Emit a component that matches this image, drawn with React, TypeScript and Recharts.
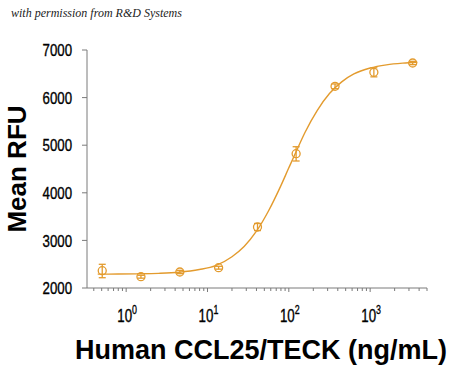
import React from 'react';
import { ComposedChart, Line, Scatter, XAxis, YAxis, ErrorBar, Label } from 'recharts';

const ORANGE = '#E39B2E';
const AXIS = '#7a7a7a';

// measured points (concentration ng/mL, Mean RFU, error [minus, plus])
const concentrations = [0.508, 1.52, 4.57, 13.7, 41.2, 123, 370, 1111, 3333];
const meanRFU = [2363, 2237, 2336, 2426, 3281, 4821, 6237, 6531, 6727];
const errMinus = [147, 30, 35, 30, 75, 153, 50, 95, 35];
const errPlus = [135, 30, 35, 30, 75, 147, 50, 95, 35];

// fitted curve
const curveX = [0.447, 0.794, 1.41, 2.51, 4.47, 7.94, 12.6, 20, 28.2, 39.8, 56.2, 79.4, 100, 126, 158, 224, 316, 447, 631, 1000, 1585, 2512, 3800];
const curveY = [2291, 2293, 2298, 2308, 2332, 2388, 2470, 2657, 2871, 3188, 3618, 4141, 4525, 4905, 5267, 5732, 6085, 6331, 6496, 6621, 6688, 6724, 6742];

const yTicks = [2000, 3000, 4000, 5000, 6000, 7000];
const xTicks = [
  0.4, 0.5, 0.6, 0.7, 0.8, 0.9,
  1, 2, 3, 4, 5, 6, 7, 8, 9,
  10, 20, 30, 40, 50, 60, 70, 80, 90,
  100, 200, 300, 400, 500, 600, 700, 800, 900,
  1000, 2000, 3000, 4000, 5000,
];
const majorTicks = [1, 10, 100, 1000];
const majorExp = ['0', '1', '2', '3'];

const pointData = concentrations.map((x, i) => ({ x, y: meanRFU[i], err: [errMinus[i], errPlus[i]] }));
const curveData = curveX.map((x, i) => ({ x, y: curveY[i] }));

const TICK_FONT = '"Liberation Sans", Arial, sans-serif';

const XTick = (props: any) => {
  const { x, y, payload } = props;
  const v = payload.value;
  const idx = majorTicks.findIndex((m) => Math.abs(m - v) < 1e-9);
  const isMajor = idx >= 0;
  return (
    <g>
      <line x1={x} y1={y} x2={x} y2={y + (isMajor ? 4 : 3)} stroke={AXIS} strokeWidth={1} />
      {isMajor && (
        <g transform={`translate(${x + 1},${y + 34}) scale(0.74,1)`}>
          <text x={0} y={0} textAnchor="middle" fontFamily={TICK_FONT} fontSize={18} fill="#000" stroke="#000" strokeWidth={0.35}>
            10
            <tspan fontSize={12} dy={-8}>{majorExp[idx]}</tspan>
          </text>
        </g>
      )}
    </g>
  );
};

const YTick = (props: any) => {
  const { x, y, payload } = props;
  return (
    <g transform={`translate(${x},${y}) scale(0.78,1)`}>
      <text x={0} y={0} dy="0.36em" textAnchor="end" fontFamily={TICK_FONT} fontSize={17} fill="#000" stroke="#000" strokeWidth={0.35}>
        {payload.value}
      </text>
    </g>
  );
};

const Circle = (props: any) => {
  const { cx, cy } = props;
  return <circle cx={cx} cy={cy} r={4} fill="none" stroke={ORANGE} strokeWidth={1.3} />;
};

export default function App() {
  return (
    <div style={{ position: 'fixed', left: 0, top: 0, width: 450, height: 368, background: '#fff' }}>
      <div
        style={{
          position: 'absolute',
          left: 11,
          top: 6,
          fontFamily: '"Liberation Serif", serif',
          fontStyle: 'italic',
          fontSize: 12,
          color: '#222',
          whiteSpace: 'nowrap',
        }}
      >
        with permission from R&amp;D Systems
      </div>
      <ComposedChart width={450} height={368} margin={{ top: 50, right: 23, bottom: 0, left: 0 }}>
        <XAxis
          dataKey="x"
          type="number"
          scale="log"
          domain={[0.33, 5000]}
          allowDataOverflow
          ticks={xTicks}
          interval={0}
          tick={<XTick />}
          tickLine={false}
          tickSize={0}
          tickMargin={0}
          axisLine={{ stroke: AXIS, strokeWidth: 1 }}
          height={80}
        >
          <Label
            content={() => (
              <text
                x={261}
                y={359}
                textAnchor="middle"
                fontFamily='"Liberation Sans", Arial, sans-serif'
                fontWeight="bold"
                fontSize={27}
                fill="#000"
              >
                Human CCL25/TECK (ng/mL)
              </text>
            )}
          />
        </XAxis>
        <YAxis
          type="number"
          domain={[2000, 7000]}
          ticks={yTicks}
          interval={0}
          width={87}
          tickSize={5}
          tickMargin={10}
          tickLine={{ stroke: AXIS }}
          axisLine={{ stroke: AXIS, strokeWidth: 1 }}
          tick={<YTick />}
        >
          <Label
            content={() => (
              <text
                x={26}
                y={169}
                transform="rotate(-90 26 169)"
                textAnchor="middle"
                fontFamily='"Liberation Sans", Arial, sans-serif'
                fontWeight="bold"
                fontSize={26}
                fill="#000"
              >
                Mean RFU
              </text>
            )}
          />
        </YAxis>
        <Line
          data={curveData}
          dataKey="y"
          type="monotone"
          stroke={ORANGE}
          strokeWidth={1.4}
          dot={false}
          isAnimationActive={false}
        />
        <Scatter data={pointData} dataKey="y" shape={<Circle />} isAnimationActive={false}>
          <ErrorBar dataKey="err" direction="y" width={3.5} stroke={ORANGE} strokeWidth={1.3} />
        </Scatter>
      </ComposedChart>
    </div>
  );
}
